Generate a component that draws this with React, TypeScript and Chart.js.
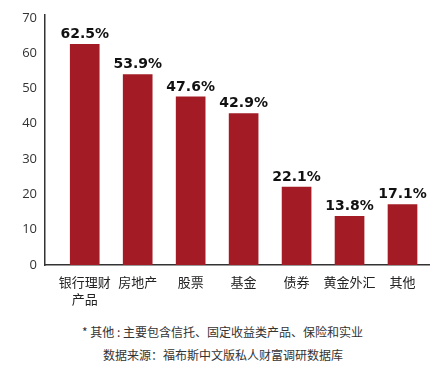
import React, { useEffect, useRef } from "react";
import { Chart, registerables } from "chart.js";

Chart.register(...registerables);

const categories: (string | string[])[] = [["银行理财", "产品"], "房地产", "股票", "基金", "债券", "黄金外汇", "其他"];
const values: number[] = [62.5, 53.9, 47.6, 42.9, 22.1, 13.8, 17.1];
const yTicks: number[] = [0, 10, 20, 30, 40, 50, 60, 70];
const footnote1 = "* 其他 : 主要包含信托、固定收益类产品、保险和实业";
const footnote2 = "数据来源：福布斯中文版私人财富调研数据库";

const BAR = "#a31c25";
const CJK = "'Noto Sans CJK SC', 'Noto Sans', sans-serif";

const labelPlugin = {
  id: "valueLabels",
  afterDatasetsDraw(chart: any) {
    const ctx = chart.ctx;
    const meta = chart.getDatasetMeta(0);
    ctx.save();
    ctx.font = "bold 14px 'DejaVu Sans', sans-serif";
    ctx.fillStyle = "#111111";
    ctx.textAlign = "center";
    ctx.textBaseline = "bottom";
    meta.data.forEach((bar: any, i: number) => {
      ctx.fillText(values[i].toFixed(1) + "%", bar.x, bar.y - 3);
    });
    ctx.restore();
  },
};

export default function App() {
  const ref = useRef<HTMLCanvasElement | null>(null);

  useEffect(() => {
    if (!ref.current) return;
    const chart = new Chart(ref.current, {
      type: "bar",
      data: {
        datasets: [
          {
            data: values.map((v, i) => ({ x: i, y: v })),
            backgroundColor: BAR,
            borderWidth: 0,
            barThickness: 29,
          },
        ],
      },
      options: {
        animation: false,
        responsive: false,
        maintainAspectRatio: false,
        layout: { padding: { left: 0, right: 15, top: 15, bottom: 0 } },
        plugins: { legend: { display: false }, tooltip: { enabled: false } },
        scales: {
          x: {
            type: "linear",
            offset: false,
            min: -0.75,
            max: 6.5,
            afterBuildTicks: (scale: any) => {
              scale.ticks = categories.map((_, i) => ({ value: i }));
            },
            afterFit: (scale: any) => {
              scale.height = 45;
            },
            grid: { display: false, drawTicks: false, offset: false },
            border: { display: true, color: "#333333", width: 1.5 },
            ticks: {
              autoSkip: false,
              maxRotation: 0,
              padding: 9,
              color: "#222222",
              font: { family: CJK, size: 13, lineHeight: 1.3 },
              callback: (v: any) => categories[Math.round(Number(v))] as any,
            },
          },
          y: {
            min: 0,
            max: 70.8,
            afterBuildTicks: (scale: any) => {
              scale.ticks = yTicks.map((v) => ({ value: v }));
            },
            afterFit: (scale: any) => {
              scale.width = 45;
            },
            grid: { display: false, drawOnChartArea: false, drawTicks: true, tickLength: 4, color: "#333333" },
            border: { display: true, color: "#333333", width: 1.5 },
            ticks: {
              padding: 4,
              color: "#333333",
              font: { family: "'Open Sans', sans-serif", size: 13 },
            },
          },
        },
      },
      plugins: [labelPlugin],
    } as any);
    return () => chart.destroy();
  }, []);

  return (
    <div style={{ position: "absolute", left: 0, top: 0, width: 444, height: 370, background: "#ffffff", overflow: "hidden" }}>
      <canvas ref={ref} width={444} height={310} style={{ position: "absolute", left: 0, top: 0, width: 444, height: 310 }} />
      <div style={{ position: "absolute", left: 82, top: 323, fontFamily: CJK, fontSize: 12, color: "#333333", whiteSpace: "nowrap", lineHeight: "18px" }}>
        {footnote1}
      </div>
      <div style={{ position: "absolute", left: 103, top: 346, fontFamily: CJK, fontSize: 12, color: "#333333", whiteSpace: "nowrap", lineHeight: "18px" }}>
        {footnote2}
      </div>
    </div>
  );
}
